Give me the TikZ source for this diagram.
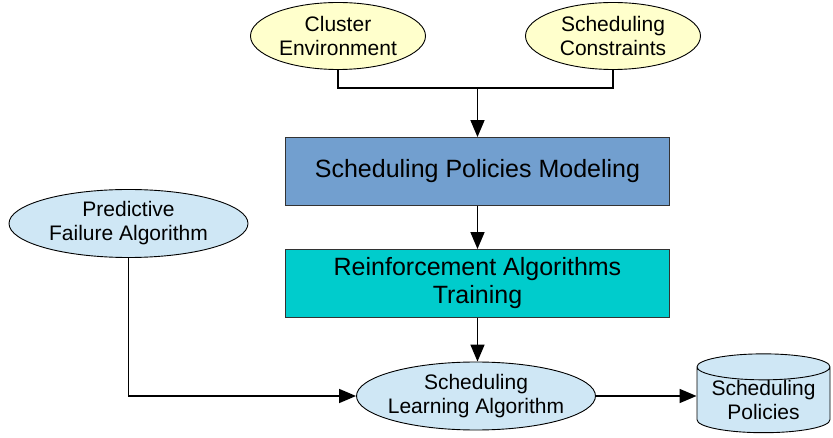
\documentclass[tikz,border=0pt]{standalone}
\usepackage{fontspec}
\setmainfont{Liberation Sans}
\usetikzlibrary{arrows.meta,shapes.geometric}
\definecolor{inyellow}{HTML}{FFFFCC}
\definecolor{algblue}{HTML}{CFE7F5}
\definecolor{modelblue}{HTML}{729FCF}
\definecolor{trainteal}{HTML}{00CCCC}
\tikzset{
  inputell/.style={ellipse, draw=black, line width=0.9pt, fill=inyellow, inner sep=0pt,
    minimum width=175pt, minimum height=67pt, align=center,
    font=\fontsize{21}{24}\selectfont},
  algell/.style={ellipse, draw=black, line width=0.9pt, fill=algblue, inner ysep=0pt,
    inner xsep=-6pt, minimum width=239pt, minimum height=68pt, align=center,
    font=\fontsize{21}{24}\selectfont},
  stagebox/.style={rectangle, draw=black!80, line width=0.9pt, inner sep=0pt,
    minimum width=384pt, minimum height=68pt, align=center,
    font=\fontsize{25}{28}\selectfont},
  store/.style={cylinder, shape border rotate=90, aspect=0.25, draw=black, line width=0.9pt,
    fill=algblue, minimum width=133pt, minimum height=71pt, inner sep=0pt, align=center,
    font=\fontsize{21}{24}\selectfont},
  flow/.style={line width=1.6pt, -{Triangle[length=17pt,width=14pt]}},
  wire/.style={line width=1.6pt}
}
\begin{document}
\begin{tikzpicture}[x=1pt,y=-1pt]
  \useasboundingbox (0,0) rectangle (833,438);

  % inputs
  \node[inputell] (env) at (338,36) {Cluster\\Environment};
  \node[inputell] (cons) at (613,36) {Scheduling\\Constraints};

  % pipeline stages
  \node[stagebox, fill=modelblue] (model) at (477.5,171.5) {Scheduling Policies Modeling};
  \node[stagebox, fill=trainteal] (train) at (477.5,283.5) {Reinforcement Algorithms\\Training};

  % algorithms
  \node[algell] (pred) at (128.5,223.5) {Predictive\\Failure Algorithm};
  \node[algell] (learn) at (476,396) {Scheduling\\Learning Algorithm};

  % output store
  \node[store] (pol) at (763.5,400) {Scheduling\\Policies};

  % merge of the two inputs
  \coordinate (merge) at (model.north |- 0,88);
  \draw[wire] (env.south) |- (merge);
  \draw[wire] (cons.south) |- (merge);
  \draw[flow] (merge) -- (model.north);

  \draw[flow] (model.south) -- (train.north);
  \draw[flow] (train.south) -- (train.south |- learn.north);
  \draw[flow] (pred.south) |- (learn.west);
  \draw[flow] (learn.east) -- (learn.east -| pol.west);
\end{tikzpicture}
\end{document}
